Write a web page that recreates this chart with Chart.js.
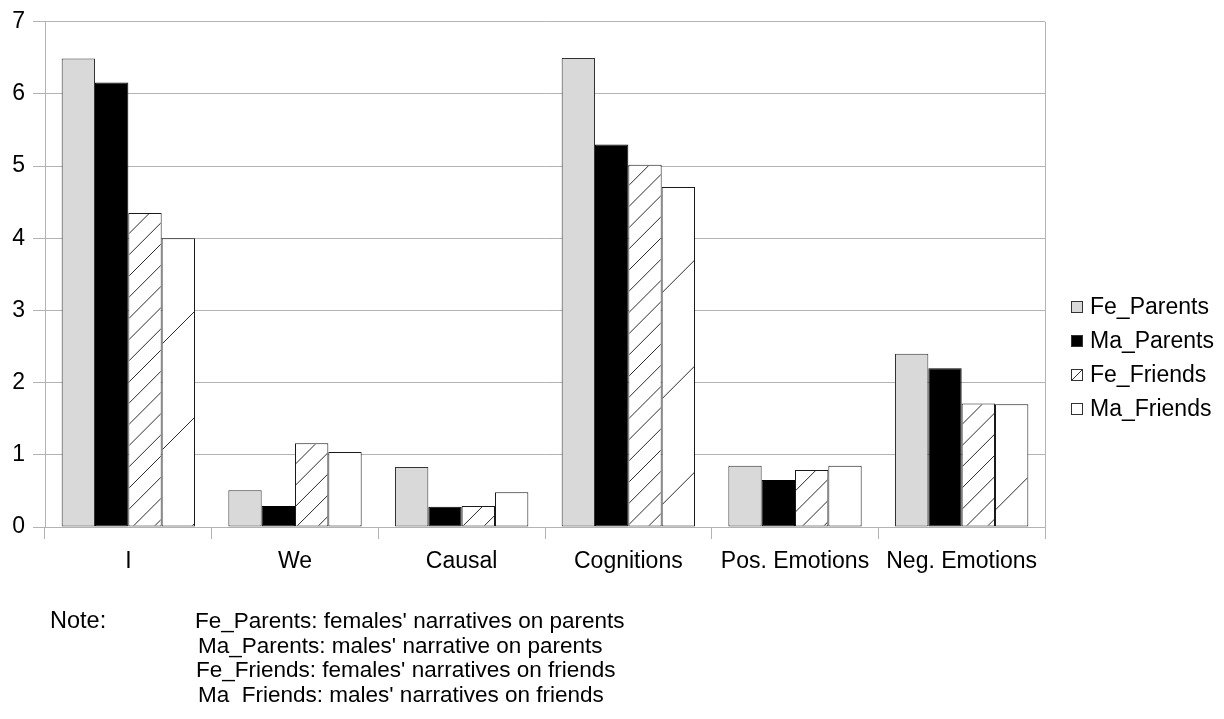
<!DOCTYPE html>
<html>
<head>
<meta charset="utf-8">
<title>Word categories in narratives</title>
<script src="https://cdn.jsdelivr.net/npm/chart.js@4.4.1/dist/chart.umd.min.js"></script>
<style>
  html, body { margin: 0; padding: 0; background: #fff; }
  #wrap { position: relative; width: 1224px; height: 719px; overflow: hidden; }
  #c { position: absolute; left: 0; top: 0; }
  .note {
    position: absolute;
    font-family: "Liberation Sans", Arial, sans-serif;
    font-size: 22.5px;
    line-height: 24.7px;
    color: #000;
    white-space: nowrap;
  }
  .note div { height: 24.7px; }
</style>
</head>
<body>
<div id="wrap">
  <canvas id="c" width="1224" height="719"></canvas>
  <div class="note" style="left:50px; top:608px; font-size:23.5px;">Note:</div>
  <div class="note" style="left:0; top:609px; width:900px; height:93px; overflow:hidden;"><div style="padding-left:195px;">Fe_Parents: females' narratives on parents</div><div style="padding-left:198px;">Ma_Parents: males' narrative on parents</div><div style="padding-left:196px;">Fe_Friends: females' narratives on friends</div><div style="padding-left:198px;">Ma_Friends: males' narratives on friends</div></div>
</div>
<script>
// Categories of words counted in the narratives
const categories = ['I', 'We', 'Causal', 'Cognitions', 'Pos. Emotions', 'Neg. Emotions'];

// Series names
const seriesNames = ['Fe_Parents', 'Ma_Parents', 'Fe_Friends', 'Ma_Friends'];

// Mean values per category
const feParents = [6.49, 0.51, 0.83, 6.50, 0.85, 2.40];
const maParents = [6.16, 0.29, 0.28, 5.30, 0.65, 2.20];
const feFriends = [4.35, 1.16, 0.29, 5.02, 0.79, 1.71];
const maFriends = [4.00, 1.04, 0.48, 4.71, 0.85, 1.70];

// Value axis tick labels
const yTicks = [0, 1, 2, 3, 4, 5, 6, 7];

const FONT = '"Liberation Sans", Arial, sans-serif';
const GRID = '#b3b3b3';
const INK = '#000000';

const seriesValues = [feParents, maParents, feFriends, maFriends];
const seriesStyle = [
  { fill: '#d9d9d9', border: '#333333', hatch: 0 },
  { fill: '#000000', border: '#000000', hatch: 0 },
  { fill: '#ffffff', border: '#1a1a1a', hatch: 21.2 },
  { fill: '#ffffff', border: '#1a1a1a', hatch: 106 }
];

const datasets = seriesNames.map((name, i) => ({
  label: name,
  data: seriesValues[i],
  backgroundColor: seriesStyle[i].fill,
  borderColor: seriesStyle[i].border,
  borderWidth: 1,
  borderSkipped: false,
  categoryPercentage: 0.8,
  barPercentage: 1.0,
  hatchSpacing: seriesStyle[i].hatch,
  hatchColor: '#2a2a2a'
}));

// Diagonal hatching inside bars, anchored at each bar's top-left corner
const hatchPlugin = {
  id: 'hatch',
  afterDatasetsDraw(chart) {
    const ctx = chart.ctx;
    chart.data.datasets.forEach((ds, i) => {
      if (!ds.hatchSpacing) return;
      const meta = chart.getDatasetMeta(i);
      if (meta.hidden) return;
      meta.data.forEach(bar => {
        const p = bar.getProps(['x', 'y', 'width', 'base'], true);
        const left = p.x - p.width / 2;
        const top = Math.min(p.y, p.base);
        const bottom = Math.max(p.y, p.base);
        const w = p.width, h = bottom - top;
        const s = ds.hatchSpacing;
        ctx.save();
        ctx.beginPath();
        ctx.rect(left + 1, top + 1, w - 2, h - 2);
        ctx.clip();
        ctx.strokeStyle = ds.hatchColor;
        ctx.lineWidth = 1;
        ctx.beginPath();
        for (let k = 1; k * s < h + w + s; k++) {
          const y0 = top + k * s;
          ctx.moveTo(left - 2, y0 + 2);
          ctx.lineTo(left + w + 2, y0 - w - 2);
        }
        ctx.stroke();
        ctx.restore();
      });
    });
  }
};

// Right-hand border of the plot area
const framePlugin = {
  id: 'frame',
  beforeDatasetsDraw(chart) {
    const { ctx, chartArea } = chart;
    const x = Math.round(chartArea.right) + 0.5;
    ctx.save();
    ctx.strokeStyle = GRID;
    ctx.lineWidth = 1;
    ctx.beginPath();
    ctx.moveTo(x, chartArea.top);
    ctx.lineTo(x, chartArea.bottom);
    ctx.stroke();
    ctx.restore();
  }
};

// Legend at the right, centred on the canvas height
const legendPlugin = {
  id: 'sideLegend',
  afterDraw(chart) {
    const { ctx, chartArea } = chart;
    const box = 11, rowGap = 34;
    const n = chart.data.datasets.length;
    const cy0 = chart.height / 2 - 2 - rowGap * (n - 1) / 2;
    const boxX = Math.round(chartArea.right) + 26;
    const textX = Math.round(chartArea.right) + 45;
    ctx.save();
    ctx.font = '23px ' + FONT;
    ctx.textBaseline = 'middle';
    ctx.fillStyle = INK;
    chart.data.datasets.forEach((ds, i) => {
      const cy = cy0 + i * rowGap;
      const bx = boxX + 0.5, by = Math.round(cy - box / 2) + 0.5;
      ctx.fillStyle = ds.backgroundColor;
      ctx.fillRect(bx, by, box, box);
      ctx.strokeStyle = '#333333';
      ctx.lineWidth = 1;
      ctx.strokeRect(bx, by, box, box);
      if (ds.hatchSpacing && ds.hatchSpacing < 50) {
        ctx.beginPath();
        ctx.moveTo(bx, by + box);
        ctx.lineTo(bx + box, by);
        ctx.stroke();
      }
      ctx.fillStyle = INK;
      ctx.fillText(ds.label, textX, cy + 1);
    });
    ctx.restore();
  }
};

Chart.defaults.font.family = FONT;
Chart.defaults.font.size = 23;
Chart.defaults.color = INK;

new Chart(document.getElementById('c'), {
  type: 'bar',
  data: { labels: categories, datasets },
  options: {
    responsive: false,
    animation: false,
    devicePixelRatio: 1,
    layout: { padding: { left: 0, right: 179, top: 20, bottom: 142 } },
    plugins: {
      legend: { display: false },
      tooltip: { enabled: false }
    },
    scales: {
      x: {
        offset: true,
        grid: {
          offset: true,
          drawOnChartArea: false,
          drawTicks: true,
          tickLength: 12,
          color: GRID,
          lineWidth: 1
        },
        border: { display: true, color: GRID, width: 1 },
        ticks: { padding: 9, font: { size: 23 }, color: INK, maxRotation: 0, autoSkip: false },
        afterFit(scale) { scale.height = 50; }
      },
      y: {
        min: yTicks[0],
        max: yTicks[yTicks.length - 1],
        afterBuildTicks(scale) { scale.ticks = yTicks.map(v => ({ value: v })); },
        grid: {
          drawOnChartArea: true,
          drawTicks: true,
          tickLength: 12,
          color: GRID,
          lineWidth: 1
        },
        border: { display: true, color: GRID, width: 1 },
        ticks: { padding: 8, font: { size: 23 }, color: INK },
        afterFit(scale) { scale.width = 45; }
      }
    }
  },
  plugins: [framePlugin, hatchPlugin, legendPlugin]
});
</script>
</body>
</html>
